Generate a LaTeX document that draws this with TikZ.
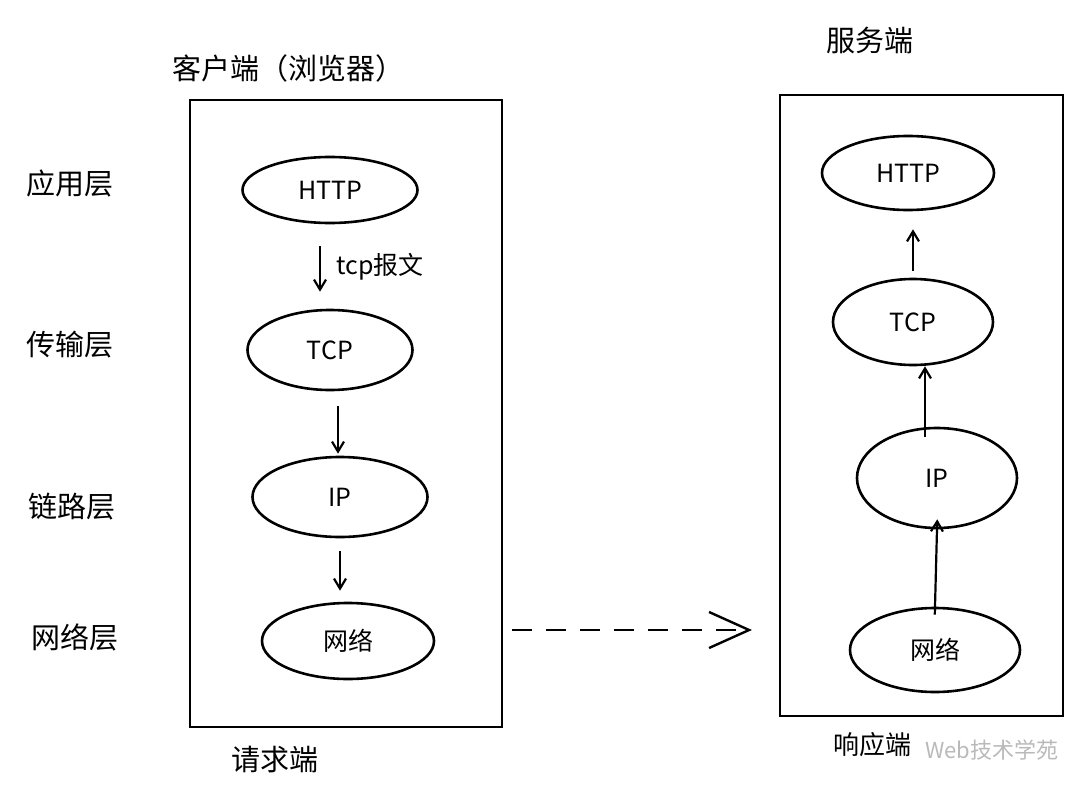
\documentclass[tikz,border=0pt]{standalone}
\usepackage{fontspec}
\setmainfont{Noto Sans CJK SC}
\usetikzlibrary{shapes.geometric,arrows.meta}

\begin{document}
\begin{tikzpicture}[x=1pt,y=-1pt,
	layer/.style={ellipse,draw,line width=2.6pt,inner sep=0pt,font=\fontsize{25}{30}\selectfont},
	tag/.style={font=\fontsize{29}{34}\selectfont},
	flow/.style={-{Straight Barb[length=10pt,width=12pt]},line width=2.2pt}]
	\useasboundingbox (0,0) rectangle (1080,800);
	\draw[line width=2.8pt] (190,100) rectangle (502,727);
	\draw[line width=2.8pt] (780,95) rectangle (1063,716);
	\node[tag] (client) at (288,68) {客户端（浏览器）};
	\node[tag] (server) at (870,40) {服务端};
	\node[tag] (app) at (70,183) {应用层};
	\node[tag] (trans) at (70,345) {传输层};
	\node[tag] (link) at (72,507) {链路层};
	\node[tag] (net) at (75,637) {网络层};
	\node[tag] (req) at (275,760) {请求端};
	\node[tag,font=\fontsize{26}{30}\selectfont] (resp) at (872,745) {响应端};
	\node[text=gray!55,font=\fontsize{22}{26}\selectfont] (mark) at (992,750) {Web技术学苑};
	\node[layer,minimum width=175,minimum height=66] (chttp) at (330,190) {HTTP};
	\node[layer,minimum width=165,minimum height=80] (ctcp) at (330,350) {TCP};
	\node[layer,minimum width=175,minimum height=80] (cip) at (340,497) {IP};
	\node[layer,minimum width=172,minimum height=76] (cnet) at (348,641) {网络};
	\node[layer,minimum width=172,minimum height=74] (shttp) at (908,173) {HTTP};
	\node[layer,minimum width=160,minimum height=86] (stcp) at (913,322) {TCP};
	\node[layer,minimum width=160,minimum height=100] (sip) at (937,478) {IP};
	\node[layer,minimum width=170,minimum height=84] (snet) at (935,650) {网络};
	\draw[flow,shorten <=22pt,shorten >=17pt] ([xshift=-10pt]chttp.south) -- ([xshift=-10pt]ctcp.north)
		node[midway,right=12pt,font=\fontsize{25}{30}\selectfont] (pkt) {tcp报文};
	\draw[flow,shorten <=15pt,shorten >=2pt] ([xshift=-2pt]cip |- ctcp.south) -- ([xshift=-2pt]cip.north);
	\draw[flow,shorten <=13pt,shorten >=11pt] (cip.south) -- (cip.south |- cnet.north);
	\draw[flow,shorten <=-8pt,shorten >=-10pt] (snet.north) -- (sip.south);
	\draw[flow,shorten <=-10pt] ([xshift=-12pt]sip.north) -- ([xshift=12pt]stcp.south);
	\draw[flow,shorten <=7pt,shorten >=18pt] (stcp.north) -- (stcp.north |- shttp.south);
	\coordinate (dstart) at (512,630);
	\coordinate (dend) at (752,630);
	\draw[line width=2.2pt,dash pattern=on 20pt off 14pt,-{Straight Barb[length=40pt,width=36pt,line width=2.4pt]}] (dstart) -- (dend);
\end{tikzpicture}
\end{document}
